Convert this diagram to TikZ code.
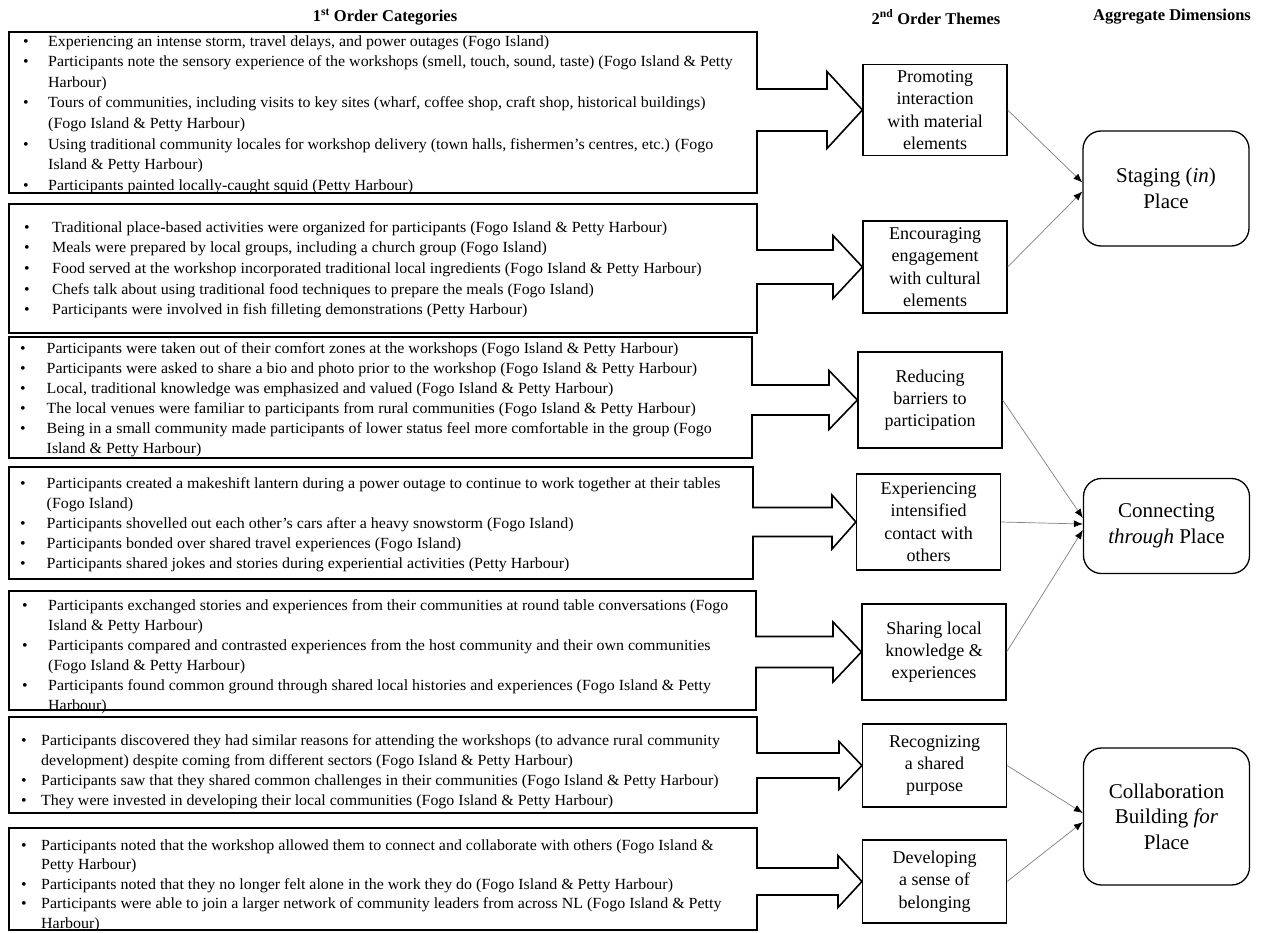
\documentclass[tikz,border=0pt]{standalone}
\usepackage{fontspec}
\setmainfont{Liberation Serif}
\newfontfamily\catfont[FakeStretch=1.03]{Liberation Serif}
\usetikzlibrary{arrows.meta,calc}
\newcommand{\bul}{\textbullet}
\newcommand{\Items}[3]{{\catfont\fontsize{15.5}{#2}\selectfont
    \begin{tabular}[t]{@{}p{#1}@{}l@{}}#3\end{tabular}}}
\newcommand{\Callout}[7]{
    \coordinate (tip) at (#1.west);
    \coordinate (hx) at (#6,0);
    \coordinate (rx) at (#4,0);
    \draw[catline] (tip) -- ($(tip -| hx)+(0,-#7)$) -- ($(tip -| hx)+(0,-#5)$)
        -- ($(tip -| rx)+(0,-#5)$) -- (#4,#2) -- (9,#2) -- (9,#3) -- (#4,#3)
        -- ($(tip -| rx)+(0,#5)$) -- ($(tip -| hx)+(0,#5)$) -- ($(tip -| hx)+(0,#7)$) -- cycle;
}
\begin{document}
\begin{tikzpicture}[x=1pt,y=-1pt,
    catline/.style={line width=1.6pt,line join=miter},
    theme/.style={draw,line width=1.2pt,minimum width=144pt,align=center,inner sep=0pt,
        font=\fontsize{18}{22.3}\selectfont},
    dim/.style={draw,rounded corners=18pt,line width=1.3pt,minimum width=166pt,align=center,
        font=\fontsize{21}{25.5}\selectfont},
    head/.style={font=\fontsize{16.5}{20}\selectfont\bfseries},
    items/.style={anchor=base west,inner sep=0pt},
    link/.style={draw=gray,line width=0.7pt,-{Latex[length=9pt,width=7pt,color=black]}}]
    \path[use as bounding box,fill=white] (0,0) rectangle (1263,932);

    \node[head] (h1) at (385,17) {1\textsuperscript{st} Order Categories};
    \node[head] (h2) at (936,17) {2\textsuperscript{nd} Order Themes};
    \node[head] (h3) at (1172,17) {Aggregate Dimensions};

    \node[theme,minimum height=91pt] (t1) at (935,110) {Promoting\\interaction\\with material\\elements};
    \node[theme,minimum height=92pt] (t2) at (935,267) {Encouraging\\engagement\\with cultural\\elements};
    \node[theme,minimum height=96pt] (t3) at (930,400) {Reducing\\barriers to\\participation};
    \node[theme,minimum height=96pt] (t4) at (928.5,522) {Experiencing\\intensified\\contact with\\others};
    \node[theme,minimum height=96pt] (t5) at (934,652) {Sharing local\\knowledge \&\\experiences};
    \node[theme,minimum height=83pt] (t6) at (934.5,765.5) {Recognizing\\a shared\\purpose};
    \node[theme,minimum height=83pt] (t7) at (934.5,881.5) {Developing\\a sense of\\belonging};

    \node[dim,minimum height=115pt] (d1) at (1166,188.5) {Staging (\textit{in})\\Place};
    \node[dim,minimum height=95pt] (d2) at (1166.5,526) {Connecting\\\textit{through} Place};
    \node[dim,minimum height=137pt] (d3) at (1166.5,816.5) {Collaboration\\Building \textit{for}\\Place};

    \Callout{t1}{32}{193}{757}{21}{827}{38.5}
    \Callout{t2}{204}{333}{757}{17}{833}{31.5}
    \Callout{t3}{337}{458}{752}{15}{829}{29.5}
    \Callout{t4}{467}{579}{753}{14.5}{832}{27}
    \Callout{t5}{591}{710}{756}{15.5}{833}{30}
    \Callout{t6}{717}{813}{757}{12.5}{839}{24}
    \Callout{t7}{828}{930}{757}{13.5}{838}{26}

    \node[items] (c1) at (23,46) {\Items{25pt}{20.6}{
        \bul & Experiencing an intense storm, travel delays, and power outages (Fogo Island)\\
        \bul & Participants note the sensory experience of the workshops (smell, touch, sound, taste) (Fogo Island \& Petty\\
        & Harbour)\\
        \bul & Tours of communities, including visits to key sites (wharf, coffee shop, craft shop, historical buildings)\\
        & (Fogo Island \& Petty Harbour)\\
        \bul & Using traditional community locales for workshop delivery (town halls, fishermen’s centres, etc.) (Fogo\\
        & Island \& Petty Harbour)\\
        \bul & Participants painted locally-caught squid (Petty Harbour)}};
    \node[items] (c2) at (24,232) {\Items{28pt}{20.7}{
        \bul & Traditional place-based activities were organized for participants (Fogo Island \& Petty Harbour)\\
        \bul & Meals were prepared by local groups, including a church group (Fogo Island)\\
        \bul & Food served at the workshop incorporated traditional local ingredients (Fogo Island \& Petty Harbour)\\
        \bul & Chefs talk about using traditional food techniques to prepare the meals (Fogo Island)\\
        \bul & Participants were involved in fish filleting demonstrations (Petty Harbour)}};
    \node[items] (c3) at (20,353) {\Items{26.5pt}{20}{
        \bul & Participants were taken out of their comfort zones at the workshops (Fogo Island \& Petty Harbour)\\
        \bul & Participants were asked to share a bio and photo prior to the workshop (Fogo Island \& Petty Harbour)\\
        \bul & Local, traditional knowledge was emphasized and valued (Fogo Island \& Petty Harbour)\\
        \bul & The local venues were familiar to participants from rural communities (Fogo Island \& Petty Harbour)\\
        \bul & Being in a small community made participants of lower status feel more comfortable in the group (Fogo\\
        & Island \& Petty Harbour)}};
    \node[items] (c4) at (20,488) {\Items{26.5pt}{20}{
        \bul & Participants created a makeshift lantern during a power outage to continue to work together at their tables\\
        & (Fogo Island)\\
        \bul & Participants shovelled out each other’s cars after a heavy snowstorm (Fogo Island)\\
        \bul & Participants bonded over shared travel experiences (Fogo Island)\\
        \bul & Participants shared jokes and stories during experiential activities (Petty Harbour)}};
    \node[items] (c5) at (22,610) {\Items{26pt}{20}{
        \bul & Participants exchanged stories and experiences from their communities at round table conversations (Fogo\\
        & Island \& Petty Harbour)\\
        \bul & Participants compared and contrasted experiences from the host community and their own communities\\
        & (Fogo Island \& Petty Harbour)\\
        \bul & Participants found common ground through shared local histories and experiences (Fogo Island \& Petty\\
        & Harbour)}};
    \node[items] (c6) at (21,745) {\Items{20pt}{20}{
        \bul & Participants discovered they had similar reasons for attending the workshops (to advance rural community\\
        & development) despite coming from different sectors (Fogo Island \& Petty Harbour)\\
        \bul & Participants saw that they shared common challenges in their communities (Fogo Island \& Petty Harbour)\\
        \bul & They were invested in developing their local communities (Fogo Island \& Petty Harbour)}};
    \node[items] (c7) at (21,850) {\Items{20pt}{19.5}{
        \bul & Participants noted that the workshop allowed them to connect and collaborate with others (Fogo Island \&\\
        & Petty Harbour)\\
        \bul & Participants noted that they no longer felt alone in the work they do (Fogo Island \& Petty Harbour)\\
        \bul & Participants were able to join a larger network of community leaders from across NL (Fogo Island \& Petty\\
        & Harbour)}};

    \draw[link] (t1.east) -- ([yshift=6pt]d1.west);
    \draw[link] (t2.east) -- ([yshift=-3pt]d1.west);
    \draw[link] (t3.east) -- ([yshift=8pt]d2.west);
    \draw[link] (t4.east) -- ([yshift=2pt]d2.west);
    \draw[link] (t5.east) -- ([yshift=-4pt]d2.west);
    \draw[link] (t6.east) -- ([yshift=3.5pt]d3.west);
    \draw[link] (t7.east) -- ([yshift=-5.5pt]d3.west);
\end{tikzpicture}
\end{document}
